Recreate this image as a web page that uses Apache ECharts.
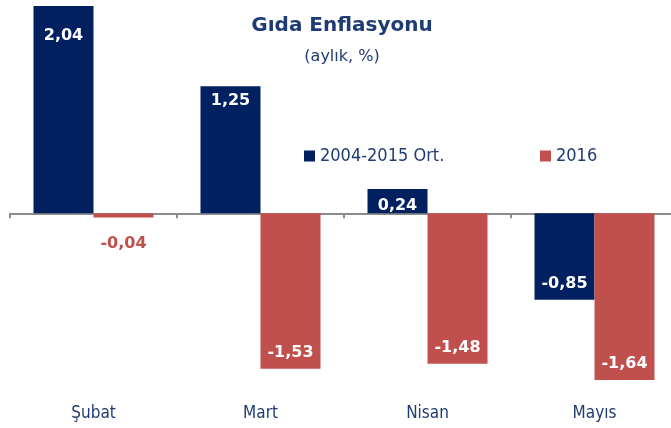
<!DOCTYPE html>
<html><head><meta charset="utf-8">
<script src="https://cdn.jsdelivr.net/npm/echarts@6/dist/echarts.min.js"></script>
<style>html,body{margin:0;padding:0;background:#fff}#c{width:671px;height:428px}</style>
</head><body><div id="c"></div>
<script>
const categories = ['Şubat', 'Mart', 'Nisan', 'Mayıs'];
const seriesNames = ['2004-2015 Ort.', '2016'];
const avgValues = [2.04, 1.25, 0.24, -0.85];
const values2016 = [-0.04, -1.53, -1.48, -1.64];

const NAVY = '#002060';
const RED = '#C0504D';
const TXT = '#1F3B73';
const fmt = v => v.toFixed(2).replace('.', ',');

function pts(vals, color) {
  return vals.map(v => {
    const small = Math.abs(v) < 0.1;
    let dist = small ? 18 : (v >= 0 ? 7 : 8);
    if (v > 2) dist = 22;
    if (v >= 0 && v < 0.5) dist = 9;
    return {
      value: v,
      label: {
        show: true,
        position: small ? (v < 0 ? 'bottom' : 'top') : (v >= 0 ? 'insideTop' : 'insideBottom'),
        distance: dist,
        color: small ? color : '#fff',
        fontWeight: 'bold',
        fontSize: 16,
        fontFamily: 'DejaVu Sans',
        formatter: p => fmt(p.value)
      }
    };
  });
}

const chart = echarts.init(document.getElementById('c'));
chart.setOption({
  animation: false,
  title: {
    text: 'Gıda Enflasyonu',
    subtext: '(aylık, %)',
    left: 337, textAlign: 'center', top: 11, itemGap: 13,
    textStyle: { color: TXT, fontSize: 20, fontWeight: 'bold', fontFamily: 'DejaVu Sans' },
    subtextStyle: { color: TXT, fontSize: 16, fontFamily: 'DejaVu Sans' }
  },
  legend: [
    { data: [seriesNames[0]], left: 304, top: 147, padding: 0, icon: 'rect', itemWidth: 11, itemHeight: 11, itemGap: 6,
      textStyle: { color: TXT, fontSize: 18, fontFamily: 'DejaVu Sans Condensed' } },
    { data: [seriesNames[1]], left: 540, top: 147, padding: 0, icon: 'rect', itemWidth: 11, itemHeight: 11,
      textStyle: { color: TXT, fontSize: 18, fontFamily: 'DejaVu Sans Condensed' } }
  ],
  grid: { left: 10, right: -7, top: 0, bottom: 42, containLabel: false, outerBoundsMode: 'none' },
  xAxis: [{
    type: 'category', data: categories,
    axisLine: { onZero: true, lineStyle: { color: '#8c8c8c', width: 2 } },
    axisTick: { show: true, length: 5, lineStyle: { color: '#8c8c8c', width: 2 } },
    axisLabel: { show: false }
  }, {
    type: 'category', data: categories, position: 'bottom',
    axisLine: { show: false, onZero: false }, axisTick: { show: false },
    axisLabel: { margin: 19, color: TXT, fontSize: 17, fontFamily: 'DejaVu Sans Condensed' }
  }],
  yAxis: { type: 'value', min: -1.7, max: 2.1, show: false, splitLine: { show: false } },
  series: [
    { name: seriesNames[0], type: 'bar', data: pts(avgValues, NAVY), itemStyle: { color: NAVY },
      barWidth: 60, barGap: '0%' },
    { name: seriesNames[1], type: 'bar', data: pts(values2016, RED), itemStyle: { color: RED },
      barWidth: 60, barGap: '0%' }
  ]
});
</script></body></html>
